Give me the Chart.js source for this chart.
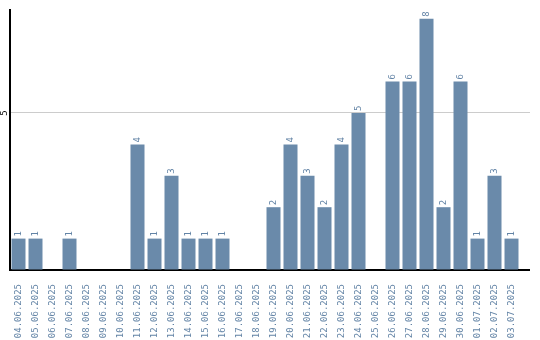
<!DOCTYPE html>
<html>
<head>
<meta charset="utf-8">
<script src="https://cdn.jsdelivr.net/npm/chart.js@4"></script>
<style>
  html, body { margin: 0; padding: 0; background: #fff; }
  #wrap { width: 540px; height: 340px; }
</style>
</head>
<body>
<div id="wrap"><canvas id="chart"></canvas></div>
<script>
// data
const dates = [
  '04.06.2025', '05.06.2025', '06.06.2025', '07.06.2025', '08.06.2025',
  '09.06.2025', '10.06.2025', '11.06.2025', '12.06.2025', '13.06.2025',
  '14.06.2025', '15.06.2025', '16.06.2025', '17.06.2025', '18.06.2025',
  '19.06.2025', '20.06.2025', '21.06.2025', '22.06.2025', '23.06.2025',
  '24.06.2025', '25.06.2025', '26.06.2025', '27.06.2025', '28.06.2025',
  '29.06.2025', '30.06.2025', '01.07.2025', '02.07.2025', '03.07.2025'
];
const counts = [1, 1, 0, 1, 0, 0, 0, 4, 1, 3, 1, 1, 1, 0, 0, 2, 4, 3, 2, 4, 5, 0, 6, 6, 8, 2, 6, 1, 3, 1];
const yTicks = [0, 5];

const BAR = '#6a8aaa';
const TXT = '#6384a6';
const FONT = '9px "DejaVu Sans Mono"';
const EXTRA = 10; // axis and grid run a bit past the last bar

// value labels over bars, y label, and the axis tail on the right
const valueLabels = {
  id: 'valueLabels',
  afterDraw(chart) {
    const { ctx, chartArea } = chart;
    const y = chart.scales.y;
    ctx.save();
    ctx.fillStyle = '#cccccc';
    yTicks.filter(v => v > 0).forEach(v => {
      const py = Math.round(y.getPixelForValue(v) - 0.5);
      ctx.fillRect(chartArea.right, py, EXTRA, 1);
    });
    const by = Math.round(chartArea.bottom - 1);
    ctx.fillStyle = '#000';
    ctx.fillRect(chartArea.right - 2, by, EXTRA + 2, 2);
    ctx.restore();
  },
  afterDatasetsDraw(chart) {
    const ctx = chart.ctx;
    const meta = chart.getDatasetMeta(0);
    ctx.save();
    ctx.font = FONT;
    ctx.fillStyle = TXT;
    ctx.textAlign = 'left';
    ctx.textBaseline = 'middle';
    meta.data.forEach((bar, i) => {
      if (!counts[i]) return;
      ctx.save();
      ctx.translate(bar.x, bar.y - 2);
      ctx.rotate(-Math.PI / 2);
      ctx.fillText(String(counts[i]), 0, 0);
      ctx.restore();
    });
    const y = chart.scales.y;
    ctx.fillStyle = '#000';
    yTicks.filter(v => v > 0).forEach(v => {
      ctx.save();
      ctx.translate(5, y.getPixelForValue(v));
      ctx.rotate(-Math.PI / 2);
      ctx.textAlign = 'center';
      ctx.fillText(String(v), 0, 0);
      ctx.restore();
    });
    ctx.restore();
  }
};

new Chart(document.getElementById('chart'), {
  type: 'bar',
  data: {
    labels: dates,
    datasets: [{
      data: counts,
      backgroundColor: BAR,
      barPercentage: 14 / 17,
      categoryPercentage: 1
    }]
  },
  options: {
    responsive: true,
    maintainAspectRatio: false,
    animation: false,
    layout: { padding: { top: 10, right: 10 + EXTRA, left: 0, bottom: 0 } },
    plugins: { legend: { display: false }, tooltip: { enabled: false } },
    scales: {
      x: {
        grid: { display: false },
        border: { color: '#000', width: 2 },
        ticks: {
          color: TXT,
          font: { family: 'DejaVu Sans Mono', size: 9 },
          minRotation: 90, maxRotation: 90,
          autoSkip: false,
          padding: 6
        },
        afterFit: s => { s.height = 70; }
      },
      y: {
        min: 0,
        max: 8.28,
        border: { color: '#000', width: 2 },
        grid: { color: '#cccccc', lineWidth: 1, drawTicks: false },
        ticks: { display: false },
        afterBuildTicks: s => { s.ticks = yTicks.map(v => ({ value: v })); },
        afterFit: s => { s.width = 10; }
      }
    }
  },
  plugins: [valueLabels]
});
</script>
</body>
</html>
